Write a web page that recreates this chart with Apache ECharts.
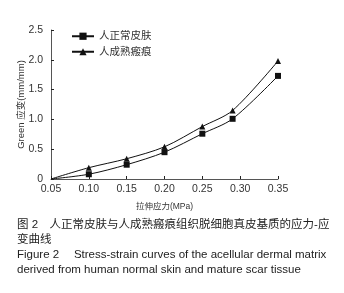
<!DOCTYPE html>
<html><head><meta charset="utf-8">
<script src="https://cdn.jsdelivr.net/npm/echarts@6/dist/echarts.min.js"></script>
<style>html,body{margin:0;padding:0;background:#fff}#c{width:344px;height:293px}</style>
</head><body><div id="c"></div>
<script>
const stress = [0.05, 0.10, 0.15, 0.20, 0.25, 0.29, 0.35];
const normalSkin = [0, 0.08, 0.24, 0.45, 0.76, 1.01, 1.73];
const matureScar = [0, 0.19, 0.34, 0.54, 0.88, 1.15, 1.98];
const seriesNames = ['人正常皮肤', '人成熟瘢痕'];
const xName = '拉伸应力(MPa)';
const yName = 'Green 应变(mm/mm)';
const captionLines = ['图 2　人正常皮肤与人成熟瘢痕组织脱细胞真皮基质的应力-应', '变曲线', 'Figure 2　 Stress-strain curves of the acellular dermal matrix', 'derived from human normal skin and mature scar tissue'];

function pts(vals){ return stress.map((x,i)=>i===0?{value:[x, vals[i]], symbolSize:0}:[x, vals[i]]); }
const font = 'Arial, "Liberation Sans", "Noto Sans CJK SC", sans-serif';
const chart = echarts.init(document.getElementById('c'));
chart.setOption({
  animation:false,
  grid:{left:51, right:66, top:30, bottom:114},
  legend:{left:66, top:26, orient:'vertical', itemGap:5, itemWidth:22, itemHeight:9,
    textStyle:{fontSize:10.5, color:'#333', fontFamily:font},
    data:[seriesNames[0], seriesNames[1]]},
  xAxis:{type:'value', min:0.05, max:0.35, interval:0.05,
    axisLine:{lineStyle:{color:'#555', width:1}},
    axisTick:{inside:true, length:3, lineStyle:{color:'#222'}},
    splitLine:{show:false},
    axisLabel:{formatter:v=>v.toFixed(2), fontSize:10.5, color:'#333', fontFamily:font, margin:5},
    name:xName, nameLocation:'middle', nameGap:23, nameMoveOverlap:false, nameTextStyle:{fontSize:8.5, color:'#333', fontFamily:font}},
  yAxis:{type:'value', min:0, max:2.5, interval:0.5,
    axisLine:{show:true, lineStyle:{color:'#555', width:1}},
    axisTick:{show:true, inside:true, length:3, lineStyle:{color:'#222'}},
    splitLine:{show:false},
    axisLabel:{formatter:v=>v===0?'0':v.toFixed(1), fontSize:10.5, color:'#333', fontFamily:font, margin:8},
    name:yName, nameLocation:'middle', nameGap:25, nameMoveOverlap:false, nameTextStyle:{fontSize:9.5, color:'#333', fontFamily:font}},
  series:[
    {name:seriesNames[0], type:'line', smooth:0.3, symbol:'rect', symbolSize:6, data:pts(normalSkin),
      lineStyle:{color:'#111', width:1}, itemStyle:{color:'#111'}},
    {name:seriesNames[1], type:'line', smooth:0.3, symbol:'triangle', symbolSize:6, data:pts(matureScar),
      lineStyle:{color:'#111', width:1}, itemStyle:{color:'#111'}}
  ],
  graphic: captionLines.map((t,i)=>({type:'text', left:17, top:219+i*15,
    style:{text:t, fontSize:11.5, fill:'#222', fontFamily:font}}))
});
</script></body></html>
